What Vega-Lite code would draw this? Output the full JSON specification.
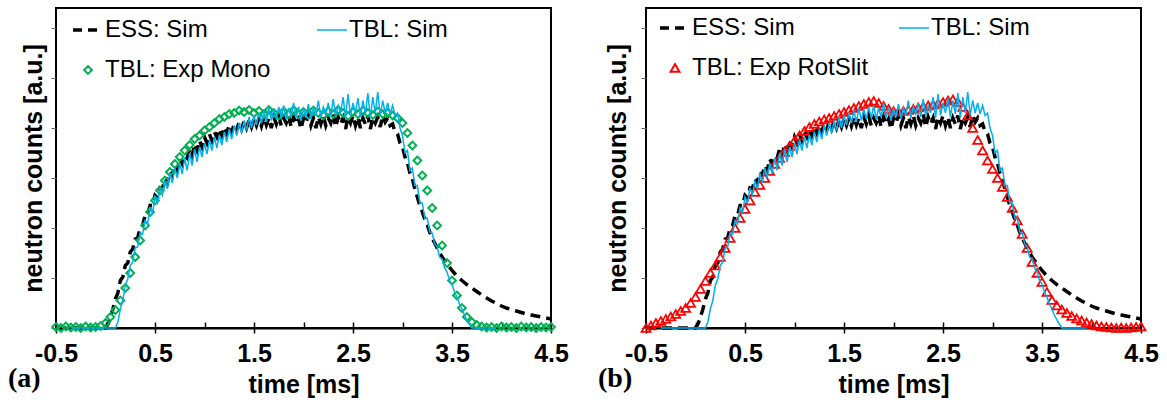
{
  "$schema": "https://vega.github.io/schema/vega-lite/v6.json",
  "padding": {"left": 7, "top": 7, "right": 5, "bottom": 0},
  "bounds": "flush",
  "spacing": 95,
  "config": {
    "font": "Liberation Sans",
    "view": {"stroke": "black", "strokeWidth": 2},
    "axis": {"labelFont": "Liberation Sans", "labelFontWeight": "bold", "labelFontSize": 25, "labelColor": "black", "titleFont": "Liberation Sans", "titleFontWeight": "bold", "titleFontSize": 25, "titleColor": "black", "grid": false, "domainColor": "black", "domainWidth": 2, "tickColor": "black", "tickWidth": 1.5}
  },
  "datasets": {
    "ess": [
      {"t":-0.5,"v":0},{"t":0,"v":0},{"t":0.025,"v":0.08},{"t":0.05,"v":0.22},{"t":0.075,"v":0.38},{"t":0.1,"v":0.58},{"t":0.125,"v":0.7},{"t":0.15,"v":0.95},{"t":0.175,"v":1.02},{"t":0.2,"v":1.25},{"t":0.225,"v":1.3},{"t":0.25,"v":1.52},{"t":0.275,"v":1.58},{"t":0.3,"v":1.78},{"t":0.325,"v":1.8},{"t":0.35,"v":2.0},{"t":0.375,"v":2.05},{"t":0.4,"v":2.25},{"t":0.425,"v":2.25},{"t":0.45,"v":2.45},{"t":0.475,"v":2.45},{"t":0.5,"v":2.65},{"t":0.525,"v":2.6},{"t":0.55,"v":2.8},{"t":0.575,"v":2.78},{"t":0.6,"v":2.98},{"t":0.625,"v":2.9},{"t":0.65,"v":3.12},{"t":0.675,"v":3.05},{"t":0.7,"v":3.25},{"t":0.725,"v":3.15},{"t":0.75,"v":3.38},{"t":0.775,"v":3.28},{"t":0.8,"v":3.45},{"t":0.825,"v":3.4},{"t":0.85,"v":3.58},{"t":0.875,"v":3.45},{"t":0.9,"v":3.68},{"t":0.925,"v":3.55},{"t":0.95,"v":3.75},{"t":0.975,"v":3.62},
      {"t":1.0,"v":3.82},{"t":1.025,"v":3.7},{"t":1.05,"v":3.88},{"t":1.075,"v":3.75},{"t":1.1,"v":3.92},{"t":1.125,"v":3.82},{"t":1.15,"v":3.98},{"t":1.175,"v":3.85},{"t":1.2,"v":4.02},{"t":1.225,"v":3.9},{"t":1.25,"v":4.06},{"t":1.275,"v":3.92},{"t":1.3,"v":4.08},{"t":1.325,"v":3.96},{"t":1.35,"v":4.12},{"t":1.375,"v":3.98},{"t":1.4,"v":4.14},{"t":1.425,"v":4.0},{"t":1.45,"v":4.16},{"t":1.475,"v":4.02},{"t":1.5,"v":4.18},{"t":1.525,"v":4.05},{"t":1.55,"v":4.2},{"t":1.575,"v":4.04},{"t":1.6,"v":4.22},{"t":1.625,"v":4.06},{"t":1.65,"v":4.2},{"t":1.675,"v":4.0},{"t":1.7,"v":4.22},{"t":1.725,"v":4.08},{"t":1.75,"v":4.24},{"t":1.775,"v":4.05},{"t":1.8,"v":4.2},{"t":1.825,"v":4.1},{"t":1.85,"v":4.25},{"t":1.875,"v":4.02},{"t":1.9,"v":4.22},{"t":1.925,"v":4.08},{"t":1.95,"v":4.18},{"t":1.975,"v":3.98},
      {"t":2.0,"v":4.2},{"t":2.025,"v":4.1},{"t":2.05,"v":4.26},{"t":2.075,"v":4.05},{"t":2.1,"v":4.2},{"t":2.125,"v":4.0},{"t":2.15,"v":4.22},{"t":2.175,"v":4.08},{"t":2.2,"v":4.25},{"t":2.225,"v":4.05},{"t":2.25,"v":4.2},{"t":2.275,"v":4.1},{"t":2.3,"v":4.28},{"t":2.325,"v":4.02},{"t":2.35,"v":4.22},{"t":2.375,"v":4.08},{"t":2.4,"v":4.2},{"t":2.425,"v":3.98},{"t":2.45,"v":4.22},{"t":2.475,"v":4.1},{"t":2.5,"v":4.25},{"t":2.525,"v":4.05},{"t":2.55,"v":4.22},{"t":2.575,"v":4.0},{"t":2.6,"v":4.2},{"t":2.625,"v":4.08},{"t":2.65,"v":4.25},{"t":2.675,"v":3.98},{"t":2.7,"v":4.2},{"t":2.725,"v":4.1},{"t":2.75,"v":4.22},{"t":2.775,"v":4.02},{"t":2.8,"v":4.25},{"t":2.825,"v":4.12},{"t":2.85,"v":4.2},{"t":2.875,"v":4.05},{"t":2.9,"v":4.08},{"t":2.925,"v":3.92},{"t":2.95,"v":3.88},{"t":2.975,"v":3.7},
      {"t":3.0,"v":3.62},{"t":3.025,"v":3.42},{"t":3.05,"v":3.3},{"t":3.075,"v":3.1},{"t":3.1,"v":2.98},{"t":3.125,"v":2.78},{"t":3.15,"v":2.62},{"t":3.175,"v":2.45},{"t":3.2,"v":2.32},{"t":3.225,"v":2.18},{"t":3.25,"v":2.06},{"t":3.275,"v":1.92},{"t":3.3,"v":1.8},{"t":3.325,"v":1.7},{"t":3.35,"v":1.6},{"t":3.375,"v":1.5},{"t":3.4,"v":1.42},{"t":3.45,"v":1.28},{"t":3.5,"v":1.15},{"t":3.55,"v":1.04},{"t":3.6,"v":0.95},{"t":3.65,"v":0.87},{"t":3.7,"v":0.8},{"t":3.75,"v":0.73},{"t":3.8,"v":0.66},{"t":3.85,"v":0.6},{"t":3.9,"v":0.54},{"t":3.95,"v":0.49},{"t":4.0,"v":0.44},{"t":4.05,"v":0.4},{"t":4.1,"v":0.37},{"t":4.15,"v":0.34},{"t":4.2,"v":0.31},{"t":4.25,"v":0.28},{"t":4.3,"v":0.26},{"t":4.35,"v":0.24},{"t":4.4,"v":0.22},{"t":4.45,"v":0.2},{"t":4.5,"v":0.18}
    ],
    "tbl": [
      {"t":-0.35,"v":0},{"t":0.1,"v":0},{"t":0.125,"v":0.12},{"t":0.15,"v":0.38},{"t":0.175,"v":0.55},{"t":0.2,"v":0.85},{"t":0.225,"v":0.98},{"t":0.25,"v":1.25},{"t":0.275,"v":1.32},{"t":0.3,"v":1.6},{"t":0.325,"v":1.62},{"t":0.35,"v":1.9},{"t":0.375,"v":1.88},{"t":0.4,"v":2.15},{"t":0.425,"v":2.08},{"t":0.45,"v":2.4},{"t":0.475,"v":2.3},{"t":0.5,"v":2.62},{"t":0.525,"v":2.5},{"t":0.55,"v":2.8},{"t":0.575,"v":2.66},{"t":0.6,"v":2.95},{"t":0.625,"v":2.78},{"t":0.65,"v":3.1},{"t":0.675,"v":2.9},{"t":0.7,"v":3.2},{"t":0.725,"v":3.0},{"t":0.75,"v":3.3},{"t":0.775,"v":3.08},{"t":0.8,"v":3.4},{"t":0.825,"v":3.15},{"t":0.85,"v":3.5},{"t":0.875,"v":3.25},{"t":0.9,"v":3.58},{"t":0.925,"v":3.32},{"t":0.95,"v":3.62},{"t":0.975,"v":3.42},
      {"t":1.0,"v":3.7},{"t":1.025,"v":3.48},{"t":1.05,"v":3.76},{"t":1.075,"v":3.55},{"t":1.1,"v":3.82},{"t":1.125,"v":3.6},{"t":1.15,"v":3.86},{"t":1.175,"v":3.66},{"t":1.2,"v":3.92},{"t":1.225,"v":3.72},{"t":1.25,"v":3.98},{"t":1.275,"v":3.78},{"t":1.3,"v":4.05},{"t":1.325,"v":3.85},{"t":1.35,"v":4.1},{"t":1.375,"v":3.9},{"t":1.4,"v":4.15},{"t":1.425,"v":3.95},{"t":1.45,"v":4.22},{"t":1.475,"v":4.0},{"t":1.5,"v":4.25},{"t":1.525,"v":4.06},{"t":1.55,"v":4.3},{"t":1.575,"v":4.1},{"t":1.6,"v":4.35},{"t":1.625,"v":4.12},{"t":1.65,"v":4.4},{"t":1.675,"v":4.15},{"t":1.7,"v":4.38},{"t":1.725,"v":4.18},{"t":1.75,"v":4.42},{"t":1.775,"v":4.2},{"t":1.8,"v":4.45},{"t":1.825,"v":4.18},{"t":1.85,"v":4.4},{"t":1.875,"v":4.22},{"t":1.9,"v":4.5},{"t":1.925,"v":4.2},{"t":1.95,"v":4.42},{"t":1.975,"v":4.15},
      {"t":2.0,"v":4.38},{"t":2.025,"v":4.22},{"t":2.05,"v":4.48},{"t":2.075,"v":4.18},{"t":2.1,"v":4.4},{"t":2.125,"v":4.25},{"t":2.15,"v":4.55},{"t":2.175,"v":4.2},{"t":2.2,"v":4.42},{"t":2.225,"v":4.28},{"t":2.25,"v":4.5},{"t":2.275,"v":4.22},{"t":2.3,"v":4.58},{"t":2.325,"v":4.25},{"t":2.35,"v":4.45},{"t":2.375,"v":4.3},{"t":2.4,"v":4.62},{"t":2.425,"v":4.2},{"t":2.45,"v":4.68},{"t":2.475,"v":4.25},{"t":2.5,"v":4.5},{"t":2.525,"v":4.3},{"t":2.55,"v":4.6},{"t":2.575,"v":4.22},{"t":2.6,"v":4.55},{"t":2.625,"v":4.28},{"t":2.65,"v":4.7},{"t":2.675,"v":4.2},{"t":2.7,"v":4.62},{"t":2.725,"v":4.3},{"t":2.75,"v":4.72},{"t":2.775,"v":4.25},{"t":2.8,"v":4.55},{"t":2.825,"v":4.3},{"t":2.85,"v":4.5},{"t":2.875,"v":4.28},{"t":2.9,"v":4.45},{"t":2.925,"v":4.25},{"t":2.95,"v":4.3},{"t":2.975,"v":4.0},
      {"t":3.0,"v":3.85},{"t":3.025,"v":3.5},{"t":3.05,"v":3.55},{"t":3.075,"v":3.15},{"t":3.1,"v":3.2},{"t":3.125,"v":2.85},{"t":3.15,"v":2.85},{"t":3.175,"v":2.5},{"t":3.2,"v":2.5},{"t":3.225,"v":2.2},{"t":3.25,"v":2.2},{"t":3.275,"v":1.92},{"t":3.3,"v":1.9},{"t":3.325,"v":1.68},{"t":3.35,"v":1.62},{"t":3.375,"v":1.42},{"t":3.4,"v":1.38},{"t":3.425,"v":1.2},{"t":3.45,"v":1.12},{"t":3.475,"v":0.95},{"t":3.5,"v":0.88},{"t":3.525,"v":0.72},{"t":3.55,"v":0.62},{"t":3.575,"v":0.48},{"t":3.6,"v":0.38},{"t":3.625,"v":0.26},{"t":3.65,"v":0.16},{"t":3.675,"v":0.08},{"t":3.7,"v":0},{"t":3.95,"v":0}
    ],
    "mono": [
      {"t":-0.5,"v":0.02},{"t":-0.45,"v":0.0},{"t":-0.4,"v":0.03},{"t":-0.35,"v":0.01},{"t":-0.3,"v":0.02},{"t":-0.25,"v":0.0},{"t":-0.2,"v":0.03},{"t":-0.15,"v":0.01},{"t":-0.1,"v":0.02},{"t":-0.05,"v":0.04},{"t":0.0,"v":0.1},{"t":0.05,"v":0.22},{"t":0.1,"v":0.36},{"t":0.15,"v":0.55},{"t":0.2,"v":0.8},{"t":0.25,"v":1.1},{"t":0.3,"v":1.42},{"t":0.35,"v":1.75},{"t":0.4,"v":2.05},{"t":0.45,"v":2.32},{"t":0.5,"v":2.55},{"t":0.55,"v":2.75},{"t":0.6,"v":2.95},{"t":0.65,"v":3.12},{"t":0.7,"v":3.28},{"t":0.75,"v":3.42},{"t":0.8,"v":3.55},{"t":0.85,"v":3.66},{"t":0.9,"v":3.78},{"t":0.95,"v":3.85},
      {"t":1.0,"v":3.95},{"t":1.05,"v":4.02},{"t":1.1,"v":4.1},{"t":1.15,"v":4.18},{"t":1.2,"v":4.22},{"t":1.25,"v":4.28},{"t":1.3,"v":4.3},{"t":1.35,"v":4.35},{"t":1.4,"v":4.32},{"t":1.45,"v":4.36},{"t":1.5,"v":4.3},{"t":1.55,"v":4.34},{"t":1.6,"v":4.28},{"t":1.65,"v":4.36},{"t":1.7,"v":4.3},{"t":1.75,"v":4.25},{"t":1.8,"v":4.33},{"t":1.85,"v":4.28},{"t":1.9,"v":4.36},{"t":1.95,"v":4.27},
      {"t":2.0,"v":4.32},{"t":2.05,"v":4.26},{"t":2.1,"v":4.35},{"t":2.15,"v":4.3},{"t":2.2,"v":4.25},{"t":2.25,"v":4.33},{"t":2.3,"v":4.28},{"t":2.35,"v":4.36},{"t":2.4,"v":4.3},{"t":2.45,"v":4.24},{"t":2.5,"v":4.32},{"t":2.55,"v":4.28},{"t":2.6,"v":4.35},{"t":2.65,"v":4.3},{"t":2.7,"v":4.26},{"t":2.75,"v":4.33},{"t":2.8,"v":4.28},{"t":2.85,"v":4.3},{"t":2.9,"v":4.25},{"t":2.95,"v":4.2},
      {"t":3.0,"v":4.1},{"t":3.05,"v":3.9},{"t":3.1,"v":3.65},{"t":3.15,"v":3.35},{"t":3.2,"v":3.05},{"t":3.25,"v":2.75},{"t":3.3,"v":2.4},{"t":3.35,"v":2.05},{"t":3.4,"v":1.65},{"t":3.45,"v":1.3},{"t":3.5,"v":0.95},{"t":3.55,"v":0.65},{"t":3.6,"v":0.4},{"t":3.65,"v":0.22},{"t":3.7,"v":0.12},{"t":3.75,"v":0.06},{"t":3.8,"v":0.03},{"t":3.85,"v":0.01},{"t":3.9,"v":0.02},{"t":3.95,"v":0.0},
      {"t":4.0,"v":0.03},{"t":4.05,"v":0.01},{"t":4.1,"v":0.02},{"t":4.15,"v":0.0},{"t":4.2,"v":0.03},{"t":4.25,"v":0.01},{"t":4.3,"v":0.02},{"t":4.35,"v":0.0},{"t":4.4,"v":0.02},{"t":4.45,"v":0.01},{"t":4.5,"v":0.02}
    ],
    "rot": [
      {"t":-0.5,"v":0.0},{"t":-0.45,"v":0.05},{"t":-0.4,"v":0.1},{"t":-0.35,"v":0.14},{"t":-0.3,"v":0.18},{"t":-0.25,"v":0.23},{"t":-0.2,"v":0.28},{"t":-0.15,"v":0.34},{"t":-0.1,"v":0.4},{"t":-0.05,"v":0.5},{"t":0.0,"v":0.62},{"t":0.05,"v":0.78},{"t":0.1,"v":0.94},{"t":0.15,"v":1.1},{"t":0.2,"v":1.25},{"t":0.25,"v":1.42},{"t":0.3,"v":1.6},{"t":0.35,"v":1.8},{"t":0.4,"v":2.0},{"t":0.45,"v":2.2},{"t":0.5,"v":2.38},{"t":0.55,"v":2.55},{"t":0.6,"v":2.72},{"t":0.65,"v":2.86},{"t":0.7,"v":3.0},{"t":0.75,"v":3.14},{"t":0.8,"v":3.28},{"t":0.85,"v":3.4},{"t":0.9,"v":3.52},{"t":0.95,"v":3.64},
      {"t":1.0,"v":3.75},{"t":1.05,"v":3.85},{"t":1.1,"v":3.94},{"t":1.15,"v":4.02},{"t":1.2,"v":4.08},{"t":1.25,"v":4.13},{"t":1.3,"v":4.17},{"t":1.35,"v":4.2},{"t":1.4,"v":4.24},{"t":1.45,"v":4.28},{"t":1.5,"v":4.32},{"t":1.55,"v":4.36},{"t":1.6,"v":4.4},{"t":1.65,"v":4.44},{"t":1.7,"v":4.48},{"t":1.75,"v":4.52},{"t":1.8,"v":4.54},{"t":1.85,"v":4.5},{"t":1.9,"v":4.44},{"t":1.95,"v":4.38},
      {"t":2.0,"v":4.34},{"t":2.05,"v":4.33},{"t":2.1,"v":4.34},{"t":2.15,"v":4.36},{"t":2.2,"v":4.38},{"t":2.25,"v":4.41},{"t":2.3,"v":4.43},{"t":2.35,"v":4.45},{"t":2.4,"v":4.47},{"t":2.45,"v":4.49},{"t":2.5,"v":4.52},{"t":2.55,"v":4.55},{"t":2.6,"v":4.57},{"t":2.65,"v":4.52},{"t":2.7,"v":4.42},{"t":2.75,"v":4.25},{"t":2.8,"v":4.0},{"t":2.85,"v":3.76},{"t":2.9,"v":3.55},{"t":2.95,"v":3.35},
      {"t":3.0,"v":3.18},{"t":3.05,"v":3.0},{"t":3.1,"v":2.82},{"t":3.15,"v":2.62},{"t":3.2,"v":2.4},{"t":3.25,"v":2.15},{"t":3.3,"v":1.88},{"t":3.35,"v":1.6},{"t":3.4,"v":1.32},{"t":3.45,"v":1.1},{"t":3.5,"v":0.92},{"t":3.55,"v":0.72},{"t":3.6,"v":0.56},{"t":3.65,"v":0.45},{"t":3.7,"v":0.37},{"t":3.75,"v":0.3},{"t":3.8,"v":0.24},{"t":3.85,"v":0.19},{"t":3.9,"v":0.15},{"t":3.95,"v":0.11},
      {"t":4.0,"v":0.08},{"t":4.05,"v":0.05},{"t":4.1,"v":0.03},{"t":4.15,"v":0.02},{"t":4.2,"v":0.01},{"t":4.25,"v":0.0},{"t":4.3,"v":0.01},{"t":4.35,"v":0.0},{"t":4.4,"v":0.01},{"t":4.45,"v":0.02},{"t":4.5,"v":0.03}
    ]
  },
  "resolve": {"scale": {"color": "independent"}, "legend": {"color": "independent"}},
  "hconcat": [
    {
      "width": 495,
      "height": 320,
      "title": {"text": "(a)", "orient": "bottom", "anchor": "start", "frame": "group", "dx": -48, "offset": -32, "font": "Liberation Serif", "fontSize": 28, "fontWeight": "bold", "color": "black"},
      "encoding": {
        "y": {"field": "v", "type": "quantitative", "scale": {"domain": [0, 6.4], "nice": false, "zero": false}, "axis": {"title": "neutron counts [a.u.]", "labels": false, "values": [0, 1, 2, 3, 4, 5, 6], "tickSize": 5, "tickColor": "#666666", "tickWidth": 1, "domain": false, "titlePadding": 4}}
      },
      "resolve": {"axis": {"x": "independent"}},
      "layer": [
        {
          "data": {"name": "ess"},
          "mark": {"type": "line", "strokeDash": [10, 6], "strokeWidth": 3.5},
          "encoding": {
            "x": {"field": "t", "type": "quantitative", "scale": {"domain": [-0.5, 4.5], "nice": false, "zero": false}, "axis": {"orient": "bottom", "values": [-0.5, 0.5, 1.5, 2.5, 3.5, 4.5], "format": ".1f", "labelExpr": "datum.value < 0 ? '-0.5' : datum.label", "labelFlush": false, "tickSize": 5, "labelPadding": 8, "title": "time [ms]", "titlePadding": 6}},
            "color": {
              "datum": "ESS: Sim",
              "scale": {"domain": ["ESS: Sim", "TBL: Sim", "TBL: Exp Mono"], "range": ["#000000", "#00B0F0", "#00B050"]},
              "legend": {
                "values": ["ESS: Sim", "TBL: Sim", "TBL: Exp Mono"],
                "orient": "none", "direction": "horizontal", "legendX": 20, "legendY": 10, "columns": 2, "columnPadding": 43, "rowPadding": 16, "padding": 0,
                "title": null, "labelFont": "Liberation Sans", "labelFontSize": 24, "labelColor": "black", "labelLimit": 400, "labelOffset": 5,
                "symbolType": "stroke", "symbolSize": 900, "symbolStrokeWidth": 2,
                "encode": {"symbols": {"update": {
                  "shape": {"signal": "datum.value === 'TBL: Exp Mono' ? 'diamond' : (datum.value === 'TBL: Exp RotSlit' ? 'triangle-up' : 'stroke')"},
                  "size": {"signal": "datum.value === 'TBL: Exp Mono' ? 60 : (datum.value === 'TBL: Exp RotSlit' ? 80 : 900)"},
                  "strokeDash": {"signal": "datum.value === 'ESS: Sim' ? [9, 6] : [1, 0]"},
                  "strokeWidth": {"signal": "datum.value === 'ESS: Sim' ? 3.5 : (datum.value === 'TBL: Sim' ? 1.5 : 2)"},
                  "fill": {"value": "transparent"}
                }}}
              }
            }
          }
        },
        {
          "data": {"name": "mono"},
          "mark": {"type": "point", "shape": "diamond", "filled": false, "size": 60, "strokeWidth": 2, "opacity": 1},
          "encoding": {
            "x": {"field": "t", "type": "quantitative", "scale": {"domain": [-0.5, 4.5], "nice": false, "zero": false}, "axis": null},
            "color": {"datum": "TBL: Exp Mono", "scale": {"domain": ["ESS: Sim", "TBL: Sim", "TBL: Exp Mono"], "range": ["#000000", "#00B0F0", "#00B050"]}}
          }
        },
        {
          "data": {"name": "tbl"},
          "mark": {"type": "line", "strokeWidth": 1.5},
          "encoding": {
            "x": {"field": "t", "type": "quantitative", "scale": {"domain": [-0.5, 4.5], "nice": false, "zero": false}, "axis": {"orient": "bottom", "values": [-0.5, 0, 0.5, 1, 1.5, 2, 2.5, 3, 3.5, 4, 4.5], "labels": false, "domain": false, "tickSize": -6, "title": null}},
            "color": {"datum": "TBL: Sim", "scale": {"domain": ["ESS: Sim", "TBL: Sim", "TBL: Exp Mono"], "range": ["#000000", "#00B0F0", "#00B050"]}}
          }
        }
      ]
    },
    {
      "width": 495,
      "height": 320,
      "title": {"text": "(b)", "orient": "bottom", "anchor": "start", "frame": "group", "dx": -48, "offset": -32, "font": "Liberation Serif", "fontSize": 28, "fontWeight": "bold", "color": "black"},
      "encoding": {
        "y": {"field": "v", "type": "quantitative", "scale": {"domain": [0, 6.4], "nice": false, "zero": false}, "axis": {"title": "neutron counts [a.u.]", "labels": false, "values": [0, 1, 2, 3, 4, 5, 6], "tickSize": 5, "tickColor": "#666666", "tickWidth": 1, "domain": false, "titlePadding": 10}}
      },
      "resolve": {"axis": {"x": "independent"}},
      "layer": [
        {
          "data": {"name": "ess"},
          "mark": {"type": "line", "strokeDash": [10, 6], "strokeWidth": 3.5},
          "encoding": {
            "x": {"field": "t", "type": "quantitative", "scale": {"domain": [-0.5, 4.5], "nice": false, "zero": false}, "axis": {"orient": "bottom", "values": [-0.5, 0.5, 1.5, 2.5, 3.5, 4.5], "format": ".1f", "labelExpr": "datum.value < 0 ? '-0.5' : datum.label", "labelFlush": false, "tickSize": 5, "labelPadding": 8, "title": "time [ms]", "titlePadding": 6}},
            "color": {
              "datum": "ESS: Sim",
              "scale": {"domain": ["ESS: Sim", "TBL: Sim", "TBL: Exp RotSlit"], "range": ["#000000", "#00B0F0", "#FF0000"]},
              "legend": {
                "values": ["ESS: Sim", "TBL: Sim", "TBL: Exp RotSlit"],
                "orient": "none", "direction": "horizontal", "legendX": 17, "legendY": 8, "columns": 2, "columnPadding": 27, "rowPadding": 16, "padding": 0,
                "title": null, "labelFont": "Liberation Sans", "labelFontSize": 24, "labelColor": "black", "labelLimit": 400, "labelOffset": 5,
                "symbolType": "stroke", "symbolSize": 900, "symbolStrokeWidth": 2,
                "encode": {"symbols": {"update": {
                  "shape": {"signal": "datum.value === 'TBL: Exp Mono' ? 'diamond' : (datum.value === 'TBL: Exp RotSlit' ? 'triangle-up' : 'stroke')"},
                  "size": {"signal": "datum.value === 'TBL: Exp Mono' ? 60 : (datum.value === 'TBL: Exp RotSlit' ? 80 : 900)"},
                  "strokeDash": {"signal": "datum.value === 'ESS: Sim' ? [9, 6] : [1, 0]"},
                  "strokeWidth": {"signal": "datum.value === 'ESS: Sim' ? 3.5 : (datum.value === 'TBL: Sim' ? 1.5 : 2)"},
                  "fill": {"value": "transparent"}
                }}}
              }
            }
          }
        },
        {
          "data": {"name": "rot"},
          "mark": {"type": "point", "shape": "triangle-up", "filled": false, "size": 80, "strokeWidth": 1.8, "opacity": 1},
          "encoding": {
            "x": {"field": "t", "type": "quantitative", "scale": {"domain": [-0.5, 4.5], "nice": false, "zero": false}, "axis": null},
            "color": {"datum": "TBL: Exp RotSlit", "scale": {"domain": ["ESS: Sim", "TBL: Sim", "TBL: Exp RotSlit"], "range": ["#000000", "#00B0F0", "#FF0000"]}}
          }
        },
        {
          "data": {"name": "tbl"},
          "mark": {"type": "line", "strokeWidth": 1.5},
          "encoding": {
            "x": {"field": "t", "type": "quantitative", "scale": {"domain": [-0.5, 4.5], "nice": false, "zero": false}, "axis": {"orient": "bottom", "values": [-0.5, 0, 0.5, 1, 1.5, 2, 2.5, 3, 3.5, 4, 4.5], "labels": false, "domain": false, "tickSize": -6, "title": null}},
            "color": {"datum": "TBL: Sim", "scale": {"domain": ["ESS: Sim", "TBL: Sim", "TBL: Exp RotSlit"], "range": ["#000000", "#00B0F0", "#FF0000"]}}
          }
        }
      ]
    }
  ]
}
